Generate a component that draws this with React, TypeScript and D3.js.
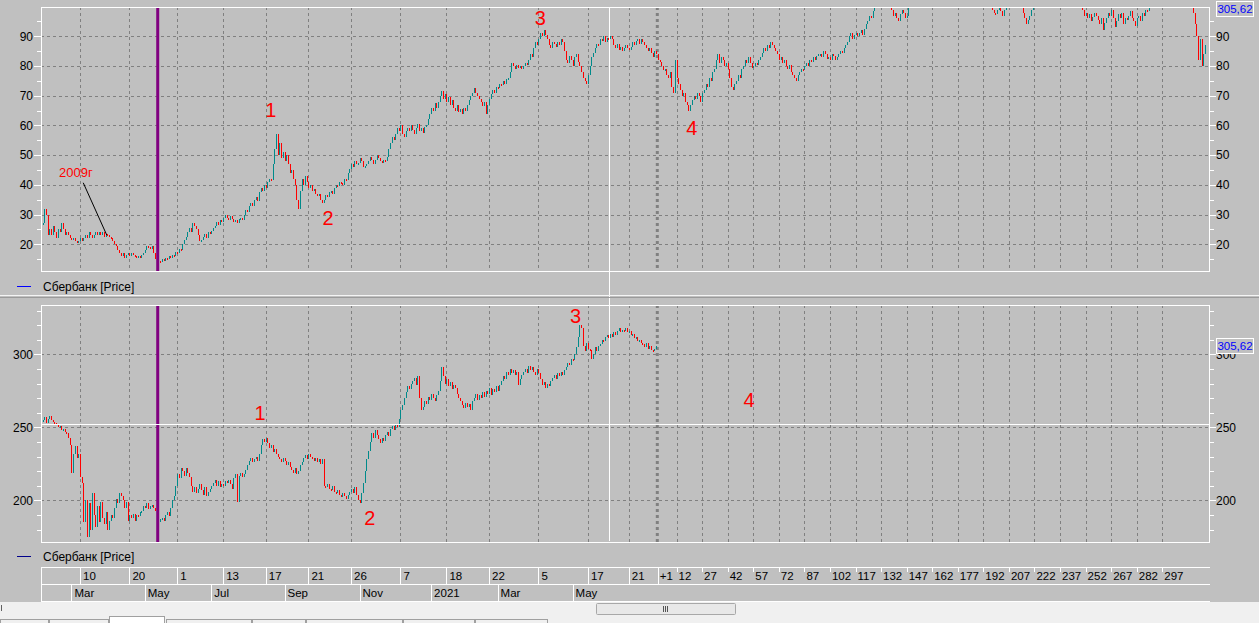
import React from 'react';
import * as d3 from 'd3';

// upper pane: Sberbank 2009 overlay, one close per bar
const upperCloses = [
  27, 32, 30, 23,
  25, 23, 26, 24, 22, 25, 24, 27, 25, 23, 24,
  23, 22, 21.5, 22, 21, 20.5, 21, 22,
  21, 22, 23, 22, 24, 23, 22, 23, 24, 23, 24,
  23, 24, 22.5, 23.5, 23, 22.5,
  22, 21, 20, 19.5, 18, 17, 16, 17, 15.5, 16.5, 17, 16,
  17, 16.5, 16, 15.5, 16, 15.5, 16.5,
  17, 18, 19.5, 19, 18.5, 19.5,
  17, 15, 14,
  14.5, 14, 15, 14.5, 15.5, 15, 16, 15.5, 16.5,
  16, 17.5, 17, 18.5, 18, 20, 21.5, 22.5,
  24, 25.5, 24, 27, 26, 25,
  23, 21, 21.5,
  22.5, 23.5, 22, 24, 23.5, 24.5,
  25.5, 26, 27.5, 26.5, 28, 27.5, 29, 30, 29, 28, 29.5, 28.5,
  27.5, 28, 27, 28.5, 29, 28,
  30, 31.5, 31, 33, 34, 33,
  35, 36, 34.5, 37.5, 39, 38,
  40, 39, 41, 42, 41.5,
  47, 52, 57,
  50, 54, 49, 51, 48, 50,
  47, 44, 45, 42, 40, 35,
  32, 38, 42, 40, 43,
  41, 39, 40, 38, 38.5, 37, 36.5, 37, 35, 34,
  35, 36.5, 36, 37.5, 38, 37, 39, 40, 39.5, 41, 40.5, 40, 42, 41.5,
  44, 45.5, 47, 46, 48, 47, 47.5, 49, 48, 46, 46.5, 47,
  48, 49.5, 48.5, 47, 48.5, 50, 49, 48, 47.5, 48.5, 48, 49.5,
  52, 54, 56, 55, 57, 59, 58,
  60, 57, 56, 58, 59,
  58, 60, 58.5, 57, 59, 60.5, 58, 59, 57.5, 59.5, 60,
  62, 64, 66, 65, 67.5, 66,
  68, 70, 71.5, 69, 70.5, 68, 69.5, 67, 68.5,
  66, 65, 67, 64.5, 65.5, 64, 66, 65,
  67, 68.5, 70, 71, 72.5, 71, 70,
  69, 68, 66.5, 68, 64, 67,
  69, 70.5, 72, 71, 73, 72.5, 74, 73.5, 75, 74, 75.5, 76,
  78, 81, 80, 79, 80.5, 79.5, 80, 79, 80, 81, 80.5, 82,
  84, 83, 86, 88, 87, 89, 91, 90, 92, 90.5,
  89, 87, 86, 88, 87.5, 86.5, 88, 87, 89, 88,
  85, 82, 81, 83.5, 82, 80, 83, 84, 81.5, 80,
  78, 76, 75, 74, 77,
  80, 83, 84.5, 86, 87.5, 87,
  89, 88.5, 90, 88, 89.5, 89, 90, 89,
  87, 86, 87.5, 85.5, 86.5, 85, 86, 87, 86, 85.5,
  86.5, 88, 87, 88.5, 89, 87.5, 89, 88, 87, 86,
  85, 86, 84.5, 83, 85, 84, 82, 81.5,
  80, 78.5, 79, 77, 76, 78,
  73, 71, 82, 76,
  74, 72, 70, 71, 68, 67, 65,
  67, 68.5, 70, 69, 71, 70, 68,
  71, 72, 74, 73, 76, 75, 78, 79,
  82, 84, 81, 83, 82, 80, 81, 79,
  76, 73, 72, 74,
  75, 77, 76, 79, 80, 82, 81, 83,
  81, 79.5, 80, 81, 80.5, 82,
  83, 84.5, 86, 85, 87, 86, 88, 87, 86, 85,
  84, 82, 83, 81, 82, 80, 79, 80.5, 78, 77, 76, 75, 77,
  78, 79, 78.5, 80, 81, 80, 82, 81.5, 83, 82, 83.5, 84,
  84, 83, 85, 84, 82.5, 83, 82, 84, 83.5, 82, 83, 84, 85, 84.5,
  86, 87, 88, 90, 91, 89, 90.5, 91, 90,
  91, 92, 90.5, 92.5,
  94, 95, 97, 96, 98.5,
  101, 103, 102, 104, 101, 100, 102, 103, 101, 100,
  99, 97, 98, 96, 95, 97.5, 99, 98, 96, 97, 99.5, 101,
  101, 102.5, 103, 104, 102, 103.5, 105, 104, 106, 105,
  107, 106.5, 105, 104, 106, 107, 108, 106, 105, 104.5,
  106, 107, 105.5, 104, 103, 104.5, 103, 102, 103.5, 104,
  105, 106, 104, 103, 102, 101.5, 102.5, 104, 103, 105,
  104, 102, 101, 102, 103, 101, 100.5,
  99, 98, 97.5, 99, 101, 98.5, 97, 99, 100.5, 101,
  100.5, 102, 101, 100, 101.5, 103, 102, 100.5,
  98, 96, 94, 95.5, 97, 99,
  101, 103, 104, 105.5, 104, 106, 107, 105, 104, 106,
  108, 107, 109, 108, 106, 107, 105, 104, 106, 105,
  103, 104, 102, 103, 101.5, 102, 100.5, 101, 100,
  99, 97, 98, 96, 97.5, 95, 96.5, 98, 97, 95.5,
  94, 96, 92, 94.5, 96, 98, 97, 99, 96, 93,
  95, 97.5, 96, 98, 94, 96, 95.5, 97, 98.5, 96,
  95, 93.5, 96, 97, 95, 98, 97, 99, 98.5, 100, 101,
  102, 103, 104, 106, 105, 107, 106, 108, 107, 105,
  106, 104, 105, 103, 104, 102, 103, 104, 102, 101,
  103, 102, 101, 100.5,
  98, 94, 90, 82, 89, 80, 84, 87,
];

// lower pane: Sberbank 2020-2021, one close per bar
const lowerCloses = [
  255, 257, 253, 256, 258, 255, 254, 253,
  252, 250, 251, 248, 249, 247, 246,
  243, 238, 219, 232, 237, 229, 232, 216,
  212, 185,
  200, 175, 198, 180, 205,
  190, 182, 196, 185, 199, 188,
  184, 192, 180, 186, 190, 188,
  195, 201, 198, 205, 203, 200,
  195, 199, 186, 190,
  188, 191, 186, 190, 189, 192,
  193, 196, 195, 198, 194, 196, 197, 195, 193, 190,
  185, 187,
  188, 186, 190, 192, 189, 195, 200,
  203, 210, 218, 215, 222,
  220, 217, 222, 219, 216,
  210, 206, 209, 205, 208, 211,
  207, 204, 209, 203, 206, 208, 210,
  212, 214, 210, 213, 209, 211, 210, 213, 212, 214, 211, 208,
  215, 218, 199, 217, 219, 216, 218, 221,
  224, 227, 229, 226, 228, 230, 227, 232,
  238, 242, 240, 243,
  239, 236, 238, 233, 235, 232,
  230, 228, 226, 229, 227, 224, 226, 223,
  221, 219, 222, 218, 220,
  224, 226, 229, 231, 228, 232, 230, 229,
  227, 229, 226, 228, 225, 228,
  210, 209, 211, 208, 207, 210, 206, 205, 207, 204, 202, 205, 203, 201, 204, 206,
  208, 205, 209, 204, 200, 198,
  205, 212, 220, 228, 234,
  240, 246, 243, 248, 245, 242,
  239, 243, 241, 245, 247, 244,
  249, 251, 248, 252, 250,
  256, 262, 265, 270, 274, 278, 276,
  280, 282, 284, 279, 285, 270, 262,
  264, 268, 266, 271, 269, 273, 270, 268, 272, 275,
  282, 291, 285, 280,
  283, 278, 281, 276, 279, 277,
  273, 270, 268, 265, 263, 267, 264, 266, 262, 268,
  270, 273, 269, 272, 270, 274,
  271, 275, 273, 277, 272, 276, 274, 278, 275, 279,
  282, 285, 283, 288, 286, 290, 287,
  289, 286, 288, 279, 283, 286,
  288, 290, 287, 292, 289, 291, 288, 286, 290, 287,
  283, 279, 281, 277, 280, 278, 282,
  284, 286, 283, 287, 285, 288, 286, 289,
  291, 294, 293, 297, 296, 300,
  305, 312, 320, 318,
  306, 302, 308, 304,
  303, 297, 300, 305, 302, 306,
  307, 310, 309, 312,
  313, 311, 314, 312, 315, 313,
  316, 318, 315, 317, 316, 318, 315, 316,
  313, 314, 311, 312, 309, 310, 308,
  307, 305, 308, 304, 306, 303, 302, 304, 305.62,
];
const lastPrice = '305,62';

const upperTicks = [20, 30, 40, 50, 60, 70, 80, 90];
const lowerTicks = [200, 250, 300];

// bar index of each date tick
const dayTickIdx = [22, 51, 79, 106, 131, 156, 181, 210, 237, 262, 291, 320, 344];
const dayTickLabels = ['10', '20', '1', '13', '17', '21', '26', '7', '18', '22', '5', '17', '21'];
const monthTickIdx = [17, 60, 99, 142, 186, 228, 267, 311];
const monthTickLabels = ['Mar', 'May', 'Jul', 'Sep', 'Nov', '2021', 'Mar', 'May'];
const futureTickIdx = [361, 372, 387, 402, 417, 432, 447, 462, 477, 492, 507, 522, 537, 552, 567, 582, 597, 612, 627, 642, 657];
const futureTickLabels = ['+1', '12', '27', '42', '57', '72', '87', '102', '117', '132', '147', '162', '177', '192', '207', '222', '237', '252', '267', '282', '297'];

const upperWaves = [
  { label: '1', idx: 134, v: 62.9 },
  { label: '2', idx: 167.5, v: 26.5 },
  { label: '3', idx: 292, v: 93.8 },
  { label: '4', idx: 381, v: 56.8 },
];
const lowerWaves = [
  { label: '1', idx: 127.6, v: 255 },
  { label: '2', idx: 192, v: 183.3 },
  { label: '3', idx: 312.7, v: 321.5 },
  { label: '4', idx: 414.5, v: 263.9 },
];

const FONT = '"Liberation Sans", Arial, sans-serif';
const BG = '#c0c0c0';
const GRID = '#808080';
const UP = '#008a8a';
const DOWN = '#ff0000';
const LEFT = 41;
const RIGHT = 1210;

const x = d3.scaleLinear().domain([0, 361]).range([42.5, 657.8]);
const yTop = d3.scaleLinear().domain([11.0, 99.87]).range([271, 7]);
const yBot = d3.scaleLinear().domain([171.5, 333.8]).range([542, 305]);

const px = (v: number) => Math.round(v) + 0.5;

// thin 1px bars, open = previous close
function Candles({ closes, y }: { closes: number[]; y: d3.ScaleLinear<number, number> }) {
  return (
    <g shapeRendering="crispEdges">
      {closes.map((c, i) => {
        const o = i === 0 ? c : closes[i - 1];
        const t = Math.round(y(Math.max(o, c)));
        const b = Math.round(y(Math.min(o, c)));
        return (
          <rect key={i} x={Math.round(x(i))} y={t} width={1} height={Math.max(2, b - t)}
            fill={c >= o ? UP : DOWN} />
        );
      })}
    </g>
  );
}

function Pane({ y, top, bottom, ticks, minorStep, closes, clipId, waves }: any) {
  const [lo, hi] = y.domain();
  const minors = d3.range(Math.ceil(lo / minorStep) * minorStep, hi, minorStep);
  const vLines = [...dayTickIdx, ...futureTickIdx.slice(1)];
  return (
    <g>
      <defs>
        <clipPath id={clipId}>
          <rect x={LEFT} y={top} width={RIGHT - LEFT} height={bottom - top} />
        </clipPath>
      </defs>
      {ticks.map((t: number) => (
        <line key={'h' + t} x1={LEFT} x2={RIGHT} y1={px(y(t))} y2={px(y(t))}
          stroke={GRID} strokeDasharray="3,3" />
      ))}
      {vLines.map((i) => (
        <line key={'v' + i} x1={px(x(i))} x2={px(x(i))} y1={top} y2={bottom}
          stroke={GRID} strokeDasharray="3,3" />
      ))}
      <line x1={x(361) - 0.5} x2={x(361) - 0.5} y1={top} y2={bottom}
        stroke={GRID} strokeWidth={3} strokeDasharray="3,3" />
      <g clipPath={`url(#${clipId})`}>
        <Candles closes={closes} y={y} />
      </g>
      <line x1={x(67.6)} x2={x(67.6)} y1={top} y2={bottom} stroke="#800080" strokeWidth={3} />
      <rect x={LEFT + 0.5} y={top + 0.5} width={RIGHT - LEFT - 1} height={bottom - top}
        fill="none" stroke="#fff" />
      {minors.map((m: number) => (
        <g key={'m' + m}>
          <line x1={37} x2={LEFT} y1={px(y(m))} y2={px(y(m))} stroke="#fff" />
          <line x1={RIGHT} x2={RIGHT + 4} y1={px(y(m))} y2={px(y(m))} stroke="#fff" />
        </g>
      ))}
      {ticks.map((t: number) => (
        <g key={'l' + t} fontFamily={FONT} fontSize={12} fill="#000">
          <line x1={34} x2={LEFT} y1={px(y(t))} y2={px(y(t))} stroke="#fff" />
          <line x1={RIGHT} x2={RIGHT + 6} y1={px(y(t))} y2={px(y(t))} stroke="#fff" />
          <text x={33} y={y(t)} dy="0.36em" textAnchor="end">{t}</text>
          <text x={1216} y={y(t)} dy="0.36em">{t}</text>
        </g>
      ))}
      {waves.map((w: any) => (
        <text key={'w' + w.label} x={x(w.idx)} y={y(w.v)} textAnchor="middle"
          fontFamily={FONT} fontSize={20} fill={DOWN}>{w.label}</text>
      ))}
    </g>
  );
}

export default function App() {
  return (
    <svg width={1259} height={623} viewBox="0 0 1259 623"
      style={{ position: 'fixed', left: 0, top: 0, display: 'block' }}>
      <rect width={1259} height={623} fill={BG} />

      <Pane y={yTop} top={7} bottom={271} ticks={upperTicks} minorStep={5}
        closes={upperCloses} clipId="clipTop" waves={upperWaves} />
      <Pane y={yBot} top={305} bottom={542} ticks={lowerTicks} minorStep={10}
        closes={lowerCloses} clipId="clipBot" waves={lowerWaves} />

      {/* 2009 note */}
      <text x={x(9.7)} y={yTop(42.65)} fontFamily={FONT} fontSize={13} fill={DOWN}>2009г</text>
      <line x1={x(23.9)} y1={yTop(40.7)} x2={x(37.7)} y2={yTop(23.1)} stroke="#000" />

      {/* crosshair */}
      <line x1={609.5} x2={609.5} y1={7} y2={541} stroke="#fff" />
      <line x1={LEFT} x2={RIGHT} y1={424.5} y2={424.5} stroke="#fff" />

      {/* last price boxes */}
      {[1, 338].map((t) => (
        <g key={'p' + t}>
          <rect x={1216.5} y={t + 0.5} width={37} height={15} fill={BG} stroke="#fff" />
          <text x={1235} y={t + 12} textAnchor="middle" fontFamily={FONT} fontSize={11.5} fill="#0000ff">{lastPrice}</text>
        </g>
      ))}

      {/* legends */}
      <line x1={17} x2={31} y1={286.5} y2={286.5} stroke="#0000ff" />
      <text x={43} y={290.5} fontFamily={FONT} fontSize={12} fill="#000">Сбербанк [Price]</text>
      <line x1={17} x2={31} y1={556.5} y2={556.5} stroke="#00008b" />
      <text x={43} y={560.5} fontFamily={FONT} fontSize={12} fill="#000">Сбербанк [Price]</text>

      {/* pane separator */}
      <line x1={0} x2={1259} y1={295.5} y2={295.5} stroke="#f4f4f4" />
      <line x1={0} x2={1259} y1={297.5} y2={297.5} stroke="#9a9a9a" />

      {/* date axis */}
      <g fontFamily={FONT} fontSize={11.5} fill="#000">
        {[567.5, 584.5, 601.5].map((yy) => (
          <line key={yy} x1={LEFT} x2={RIGHT} y1={yy} y2={yy} stroke="#fff" />
        ))}
        <line x1={LEFT + 0.5} x2={LEFT + 0.5} y1={567} y2={601} stroke="#fff" />
        {dayTickIdx.map((i, k) => (
          <g key={'d' + k}>
            <line x1={px(x(i))} x2={px(x(i))} y1={567} y2={584} stroke="#fff" />
            <text x={x(i) + 3} y={580}>{dayTickLabels[k]}</text>
          </g>
        ))}
        {futureTickIdx.map((i, k) => (
          <g key={'f' + k}>
            <line x1={px(x(i))} x2={px(x(i))} y1={567} y2={k === 0 ? 584 : 572} stroke="#fff" />
            <text x={x(i) + 2} y={580}>{futureTickLabels[k]}</text>
          </g>
        ))}
        {monthTickIdx.map((i, k) => (
          <g key={'mo' + k}>
            <line x1={px(x(i))} x2={px(x(i))} y1={584} y2={601} stroke="#fff" />
            <text x={x(i) + 3} y={597}>{monthTickLabels[k]}</text>
          </g>
        ))}
      </g>

      {/* scrollbar */}
      <rect x={0} y={602} width={1259} height={14} fill="#f0f0f0" />
      <line x1={1.5} x2={1.5} y1={605} y2={611} stroke="#606060" />
      <rect x={596.5} y={603.5} width={139} height={11} rx={1} fill="#e8e8e8" stroke="#a8a8a8" />
      {[663, 665, 667].map((gx) => (
        <line key={gx} x1={gx + 0.5} x2={gx + 0.5} y1={606} y2={612} stroke="#555" />
      ))}

      {/* sheet tabs */}
      <rect x={0} y={616} width={1259} height={7} fill="#f0f0f0" />
      {[[0, 49], [49, 109], [166, 252], [252, 306], [306, 403], [403, 475], [475, 548]].map(([a, b]) => (
        <rect key={a} x={a + 0.5} y={619.5} width={b - a - 1} height={6} fill="#f0f0f0" stroke="#a0a0a0" />
      ))}
      <rect x={109.5} y={616.5} width={55} height={9} fill="#fff" stroke="#a0a0a0" />
    </svg>
  );
}
